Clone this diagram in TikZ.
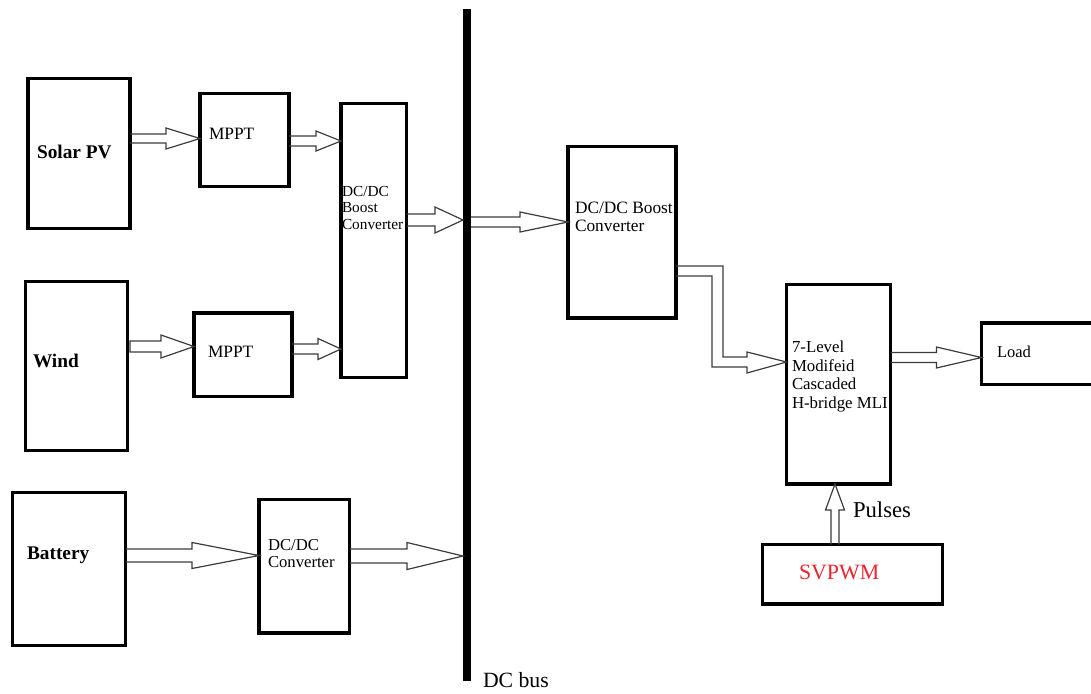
\documentclass[tikz,border=0pt]{standalone}
\usepackage{fontspec}
\setmainfont{Liberation Serif}
\usetikzlibrary{calc}
\definecolor{svred}{RGB}{235,35,45}
\definecolor{arrgray}{RGB}{60,60,60}
\tikzset{
 blk/.style={draw=black, line width=2.5pt, inner sep=0pt, outer sep=0pt},
 arr/.style={draw=arrgray, line width=0.9pt, line join=miter},
 lbl/.style={anchor=base west, inner sep=0pt, outer sep=0pt},
}
% box: name, x1, y1, x2, y2 (pixels)
\newcommand\bx[5]{\node[blk, anchor=north west, minimum width={(#4-#2)*0.75pt}, minimum height={(#5-#3)*0.75pt}] (#1) at (#2,#3) {};}
% text: name, x, baseline y, size, text
\newcommand\txt[5]{\node[lbl, font=\fontsize{#4}{#4}\selectfont] (#1) at (#2,#3) {#5};}
% horizontal block arrow: tail, tip, head length, shaft half, head half (pixels)
\newcommand\harr[5]{\draw[arr] let \p1=(#1), \p2=(#2) in
  (\x1,\y2+#4*0.75pt) -- (\x2-#3*0.75pt,\y2+#4*0.75pt) -- (\x2-#3*0.75pt,\y2+#5*0.75pt) -- (\x2,\y2)
  -- (\x2-#3*0.75pt,\y2-#5*0.75pt) -- (\x2-#3*0.75pt,\y2-#4*0.75pt) -- (\x1,\y2-#4*0.75pt);}
% vertical (upward) block arrow
\newcommand\varr[5]{\draw[arr] let \p1=(#1), \p2=(#2) in
  (\x2-#4*0.75pt,\y1) -- (\x2-#4*0.75pt,\y2-#3*0.75pt) -- (\x2-#5*0.75pt,\y2-#3*0.75pt) -- (\x2,\y2)
  -- (\x2+#5*0.75pt,\y2-#3*0.75pt) -- (\x2+#4*0.75pt,\y2-#3*0.75pt) -- (\x2+#4*0.75pt,\y1);}
\begin{document}
\begin{tikzpicture}[x=0.75pt,y=-0.75pt]
\useasboundingbox (0,0) rectangle (1091,693);
\clip (0,0) rectangle (1091,693);

% boxes
\bx{solar}{28}{78.5}{130}{228.5}
\bx{mppt1}{200}{93.5}{289}{186.5}
\bx{boost1}{341}{103.5}{406.5}{377.5}
\bx{wind}{25.5}{281.5}{127.5}{450.5}
\bx{mppt2}{194}{313}{292}{396.5}
\bx{battery}{12.5}{492.5}{125.5}{645.5}
\bx{dcconv}{259}{499.5}{349.5}{633}
\bx{boost2}{568}{146.5}{676}{318}
\bx{mli}{786.5}{284.5}{890.5}{484}
\bx{load}{981.5}{323}{1110}{384.5}
\bx{svpwm}{762.5}{544.5}{942.5}{604}

% DC bus
\node[fill=black, inner sep=0pt, outer sep=0pt, minimum width=6pt, minimum height={672*0.75pt}, anchor=north] (bus) at (467,9) {};

% texts
\txt{solarT}{37}{158}{14.5}{\bfseries Solar PV}
\txt{mppt1T}{209}{139}{13}{MPPT}
\txt{boost1Ta}{342}{196}{11.5}{DC/DC}
\txt{boost1Tb}{342}{212}{11.5}{Boost}
\txt{boost1Tc}{342}{229}{11.5}{Converter}
\txt{windT}{33}{367}{14.5}{\bfseries Wind}
\txt{mppt2T}{208}{357}{13}{MPPT}
\txt{batteryT}{27}{559}{14.5}{\bfseries Battery}
\txt{dcconvTa}{268}{550}{12.5}{DC/DC}
\txt{dcconvTb}{268}{567}{12.5}{Converter}
\txt{boost2Ta}{575}{213}{13}{DC/DC Boost}
\txt{boost2Tb}{575}{231}{13}{Converter}
\txt{mliTa}{792}{352}{12.6}{7-Level}
\txt{mliTb}{792}{371}{12.6}{Modifeid}
\txt{mliTc}{792}{389}{12.6}{Cascaded}
\txt{mliTd}{792}{408}{12.6}{H-bridge MLI}
\txt{loadT}{997}{357}{12.4}{Load}
\txt{svpwmT}{799}{579}{16.4}{\color{svred}SVPWM}
\txt{pulsesT}{853}{517}{17}{Pulses}
\txt{busT}{483}{687}{16.3}{DC bus}

% arrows
\harr{solar.east |- 0,138.5}{mppt1.west |- 0,138.5}{34}{4.5}{10.5}
\harr{mppt1.east |- 0,141}{boost1.west |- 0,141}{25}{5}{10}
\harr{boost1.east |- 0,220}{bus.west |- 0,220}{28}{6}{13}
\harr{bus.east |- 0,222}{boost2.west |- 0,222}{48}{5}{10}
\draw[arr] (130,341) -- (161,341) -- (161,335) -- (mppt2.west |- 0,346.5) -- (161,358) -- (161,352) -- (130,352) -- cycle;
\harr{mppt2.east |- 0,349}{boost1.west |- 0,349}{23}{5}{10.5}
\harr{battery.east |- 0,555.5}{dcconv.west |- 0,555.5}{67}{6.5}{13}
\harr{dcconv.east |- 0,556}{bus.west |- 0,556}{56}{7}{13.5}
\harr{mli.east |- 0,357.5}{load.west |- 0,357.5}{45}{5}{10.5}
\varr{svpwm.north -| 835,0}{mli.south -| 835,0}{26}{4}{9.5}
\draw[arr] (boost2.east |- 0,266) -- (723,266) -- (723,357) -- (747,357) -- (747,352)
  -- (mli.west |- 0,362) -- (747,373) -- (747,367) -- (712,367) -- (712,276) -- (boost2.east |- 0,276);
\end{tikzpicture}
\end{document}
